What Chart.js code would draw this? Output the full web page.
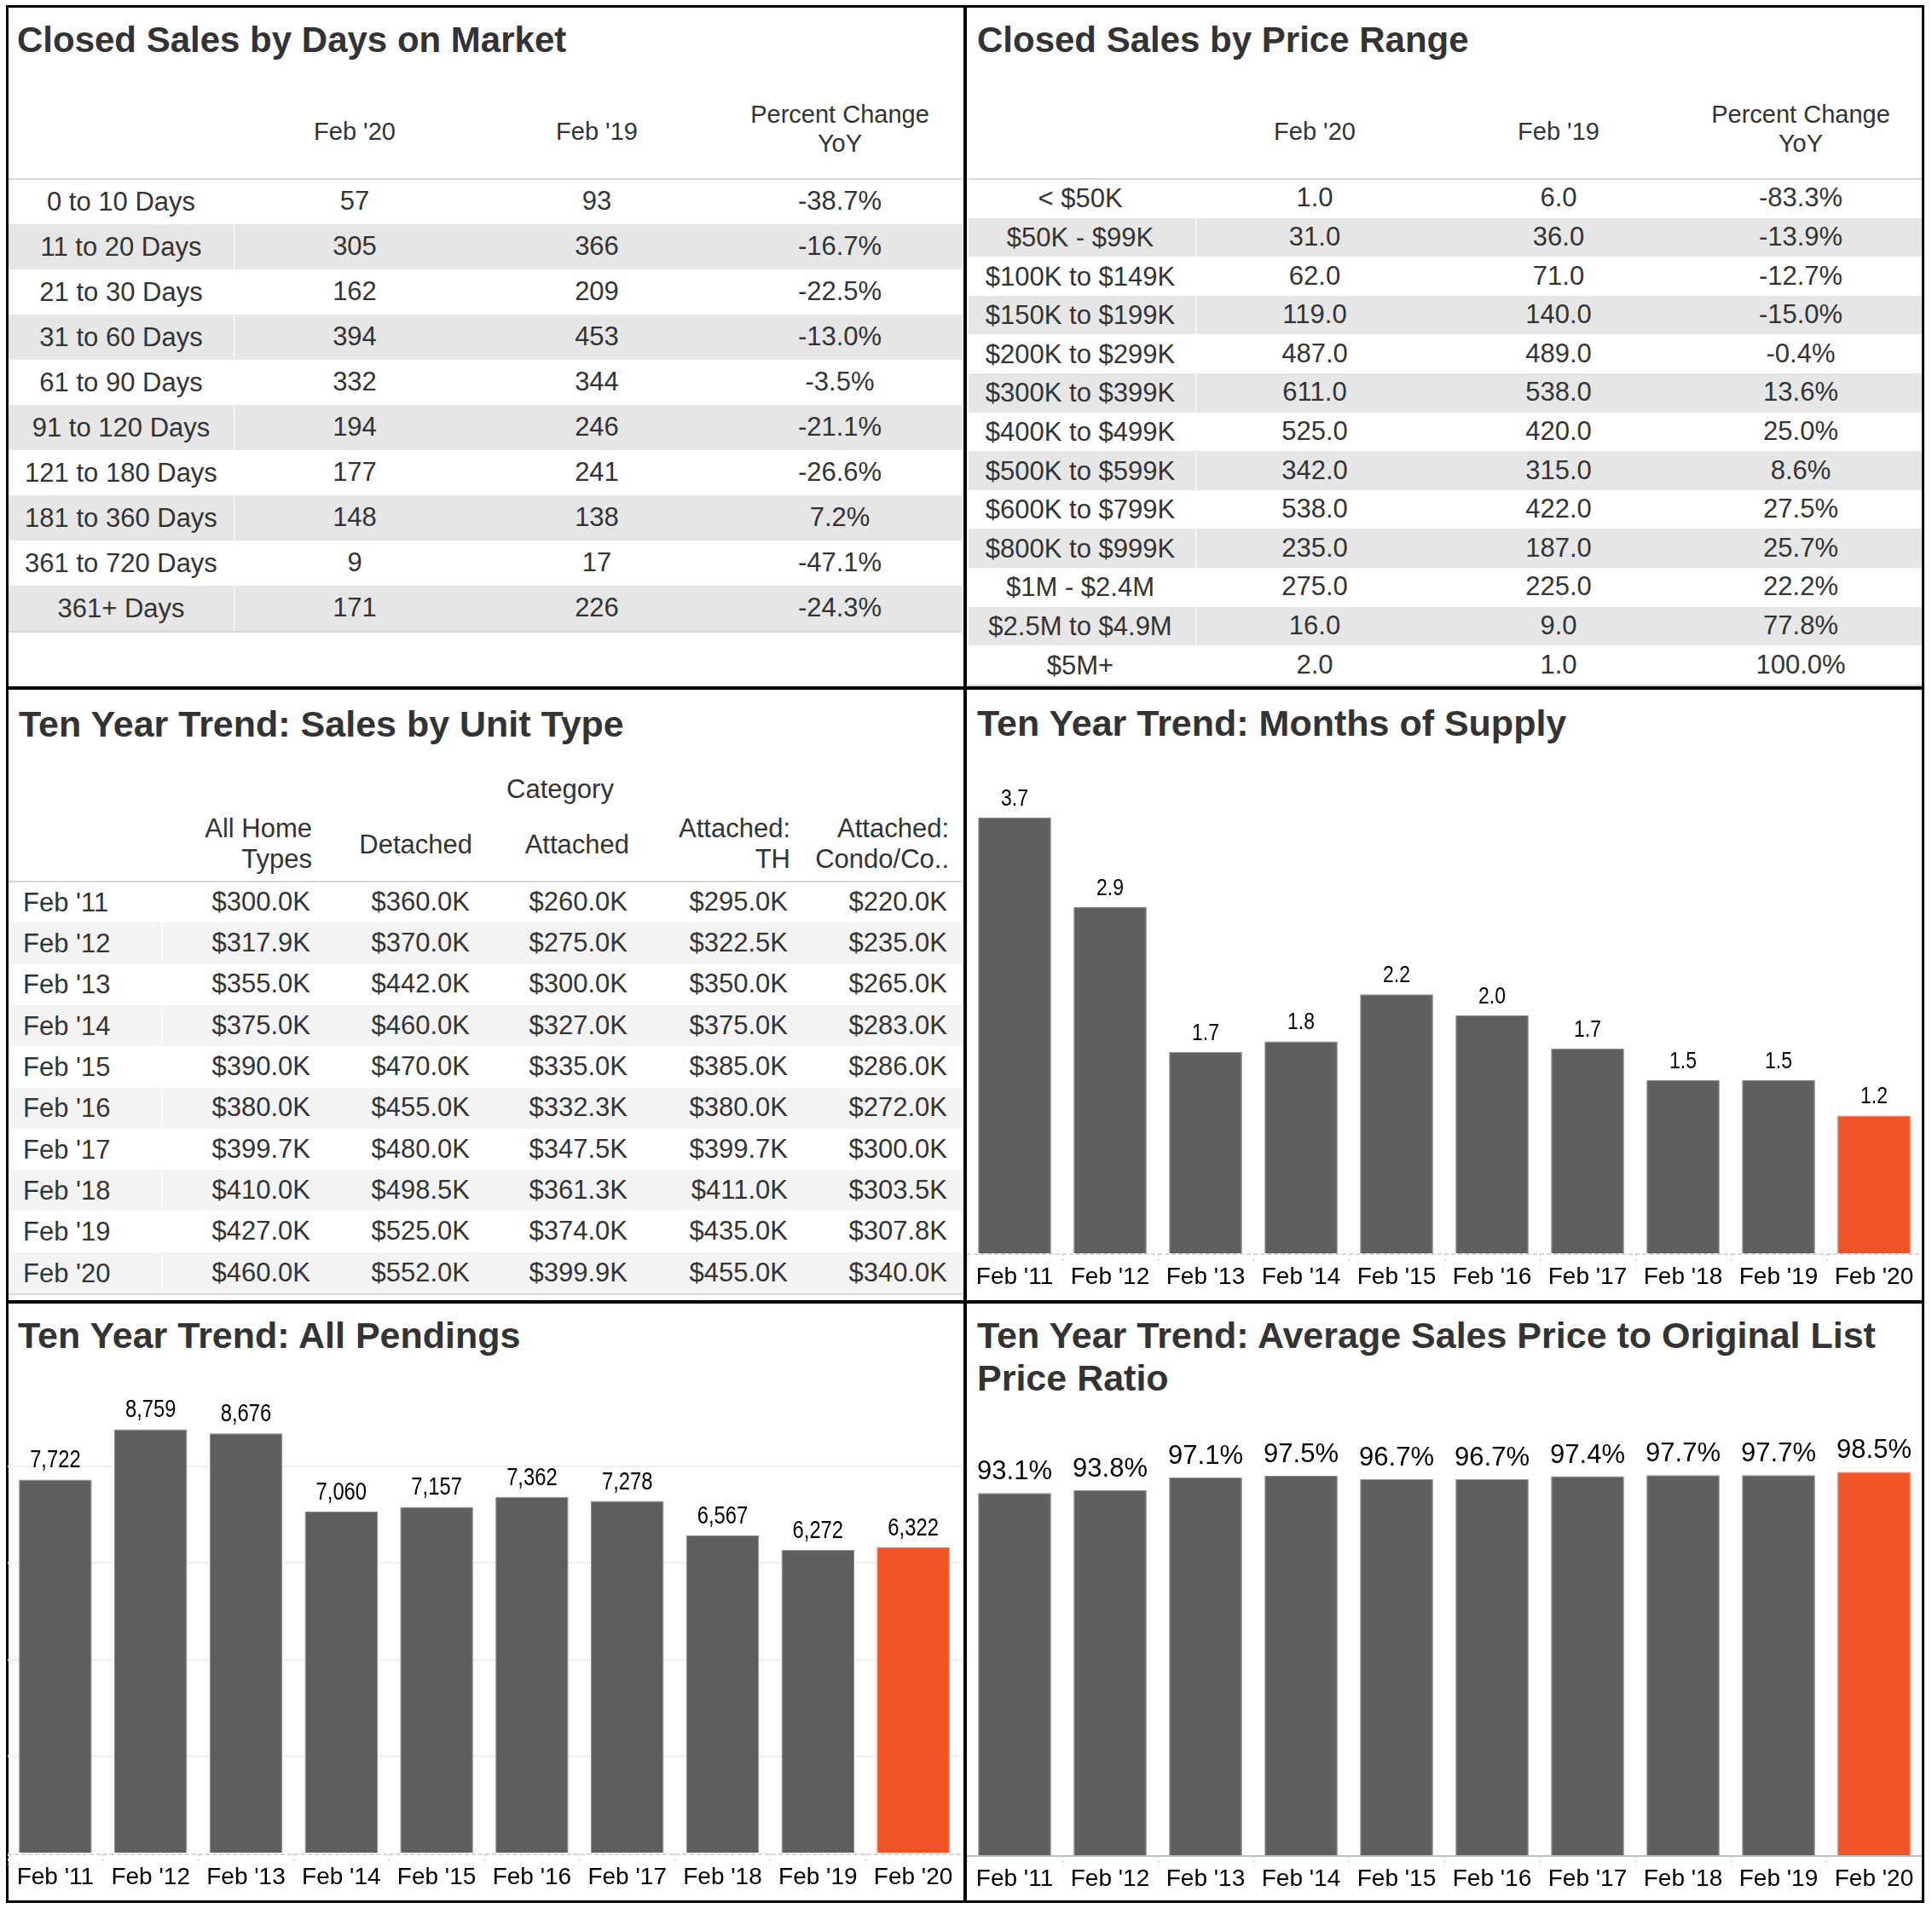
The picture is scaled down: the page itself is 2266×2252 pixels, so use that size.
<!DOCTYPE html>
<html><head><meta charset="utf-8">
<script src="https://cdn.jsdelivr.net/npm/chart.js@4.4.1/dist/chart.umd.min.js"></script>
<style>
html,body{margin:0;padding:0;background:#fff;}
body{width:2266px;height:2252px;position:relative;overflow:hidden;font-family:"Liberation Sans",Arial,Helvetica,sans-serif;}
.t{position:absolute;white-space:nowrap;color:#333;}
.r{position:absolute;}
canvas{position:absolute;}
</style></head><body>
<script>
// ---------------- DATA ----------------
const domLabels = ['0 to 10 Days','11 to 20 Days','21 to 30 Days','31 to 60 Days','61 to 90 Days','91 to 120 Days','121 to 180 Days','181 to 360 Days','361 to 720 Days','361+ Days'];
const domFeb20 = [57,305,162,394,332,194,177,148,9,171];
const domFeb19 = [93,366,209,453,344,246,241,138,17,226];
const domPct = [-38.7,-16.7,-22.5,-13.0,-3.5,-21.1,-26.6,7.2,-47.1,-24.3];

const priceLabels = ['< $50K','$50K - $99K','$100K to $149K','$150K to $199K','$200K to $299K','$300K to $399K','$400K to $499K','$500K to $599K','$600K to $799K','$800K to $999K','$1M - $2.4M','$2.5M to $4.9M','$5M+'];
const priceFeb20 = [1,31,62,119,487,611,525,342,538,235,275,16,2];
const priceFeb19 = [6,36,71,140,489,538,420,315,422,187,225,9,1];
const pricePct = [-83.3,-13.9,-12.7,-15.0,-0.4,13.6,25.0,8.6,27.5,25.7,22.2,77.8,100.0];

const years = ["Feb '11","Feb '12","Feb '13","Feb '14","Feb '15","Feb '16","Feb '17","Feb '18","Feb '19","Feb '20"];
const unitHeaders = [['All Home','Types'],['Detached'],['Attached'],['Attached:','TH'],['Attached:','Condo/Co..']];
const allHome = [300.0,317.9,355.0,375.0,390.0,380.0,399.7,410.0,427.0,460.0];
const detached = [360.0,370.0,442.0,460.0,470.0,455.0,480.0,498.5,525.0,552.0];
const attached = [260.0,275.0,300.0,327.0,335.0,332.3,347.5,361.3,374.0,399.9];
const attachedTH = [295.0,322.5,350.0,375.0,385.0,380.0,399.7,411.0,435.0,455.0];
const attachedCondo = [220.0,235.0,265.0,283.0,286.0,272.0,300.0,303.5,307.8,340.0];

const monthsSupply = [3.70,2.94,1.71,1.80,2.20,2.02,1.74,1.47,1.47,1.17];
const pendings = [7722,8759,8676,7060,7157,7362,7278,6567,6272,6322];
const spOlpRatio = [93.1,93.8,97.1,97.5,96.7,96.7,97.4,97.7,97.7,98.5];

// ---------------- HELPERS ----------------
const FONT = '"Liberation Sans", Arial, Helvetica, sans-serif';
const GRAY = '#5f5f5f', ORANGE = '#f05426';

function txt(s, x, base, size, opt) {
  opt = opt || {};
  const d = document.createElement('div');
  d.className = 't';
  d.textContent = s;
  const lh = size * 1.2;
  d.style.fontSize = size + 'px';
  d.style.lineHeight = lh + 'px';
  d.style.top = (base - (lh - 1.117 * size) / 2 - 0.905 * size) + 'px';
  const align = opt.align || 'left';
  if (align === 'left') d.style.left = x + 'px';
  else if (align === 'center') { d.style.left = (x - 600) + 'px'; d.style.width = '1200px'; d.style.textAlign = 'center'; }
  else { d.style.left = (x - 1200) + 'px'; d.style.width = '1200px'; d.style.textAlign = 'right'; }
  if (opt.weight) d.style.fontWeight = opt.weight;
  if (opt.color) d.style.color = opt.color;
  document.body.appendChild(d);
}
function rect(x, y, w, h, color) {
  const d = document.createElement('div');
  d.className = 'r';
  d.style.left = x + 'px'; d.style.top = y + 'px';
  d.style.width = w + 'px'; d.style.height = h + 'px';
  d.style.background = color;
  document.body.appendChild(d);
}
const fmtPct = v => v.toFixed(1) + '%';
const fmtK = v => '$' + v.toFixed(1) + 'K';

// ---------------- FRAME ----------------
(function(){
  const f = document.createElement('div');
  f.className = 'r';
  f.style.left = '7px'; f.style.top = '6px'; f.style.width = '2250px'; f.style.height = '2226px';
  f.style.border = '3px solid #000'; f.style.boxSizing = 'border-box';
  document.body.appendChild(f);
})();

// ---------------- TITLES ----------------
const T = {weight: 'bold', color: '#333'};
txt('Closed Sales by Days on Market', 20, 62, 42, T);
txt('Closed Sales by Price Range', 1146, 62, 42, T);
txt('Ten Year Trend: Sales by Unit Type', 22, 865, 43, T);
txt('Ten Year Trend: Months of Supply', 1146, 864, 43, T);
txt('Ten Year Trend: All Pendings', 21, 1582, 43, T);
txt('Ten Year Trend: Average Sales Price to Original List', 1146, 1582, 43, T);
txt('Price Ratio', 1146, 1632, 43, T);

// ---------------- TABLE: Days on Market ----------------
(function(){
  const cols = [416, 700, 985], labelX = 142, top0 = 210, rh = 53;
  txt("Feb '20", cols[0], 164, 29, {align:'center'});
  txt("Feb '19", cols[1], 164, 29, {align:'center'});
  txt('Percent Change', cols[2], 144, 29, {align:'center'});
  txt('YoY', cols[2], 178, 29, {align:'center'});
  domLabels.forEach((lab, i) => {
    const top = top0 + rh * i;
    if (i % 2 === 1) { rect(10, top, 264, rh, '#e6e6e6'); rect(275, top, 853, rh, '#e6e6e6'); }
    const b = top + rh / 2 + 11;
    txt(lab, labelX, b, 31, {align:'center'});
    txt(String(domFeb20[i]), cols[0], b - 1, 31, {align:'center'});
    txt(String(domFeb19[i]), cols[1], b - 1, 31, {align:'center'});
    txt(fmtPct(domPct[i]), cols[2], b - 1, 31, {align:'center'});
  });
  rect(10, top0 - 1, 1118, 2, '#d4d4d4');
  rect(10, top0 + rh * domLabels.length, 1118, 2, '#d9d9d9');
})();

// ---------------- TABLE: Price Range ----------------
(function(){
  const cols = [1542, 1828, 2112], labelX = 1267, top0 = 210, rh = 45.6;
  txt("Feb '20", cols[0], 164, 29, {align:'center'});
  txt("Feb '19", cols[1], 164, 29, {align:'center'});
  txt('Percent Change', cols[2], 144, 29, {align:'center'});
  txt('YoY', cols[2], 178, 29, {align:'center'});
  priceLabels.forEach((lab, i) => {
    const top = top0 + rh * i;
    if (i % 2 === 1) { rect(1136, top, 266, rh, '#e6e6e6'); rect(1403, top, 851, rh, '#e6e6e6'); }
    const b = top + rh / 2 + 11;
    txt(lab, labelX, b, 31, {align:'center'});
    txt(priceFeb20[i].toFixed(1), cols[0], b - 1, 31, {align:'center'});
    txt(priceFeb19[i].toFixed(1), cols[1], b - 1, 31, {align:'center'});
    txt(fmtPct(pricePct[i]), cols[2], b - 1, 31, {align:'center'});
  });
  rect(1136, top0 - 1, 1118, 2, '#d4d4d4');
  rect(1136, top0 + rh * priceLabels.length, 1118, 2, '#d9d9d9');
})();

// ---------------- TABLE: Unit Type ----------------
(function(){
  const hdrRight = [366, 554, 738, 927, 1113];
  const valRight = [364, 551, 736, 924, 1111];
  const series = [allHome, detached, attached, attachedTH, attachedCondo];
  const top0 = 1034, rh = 48.3;
  txt('Category', 657, 936, 31, {align:'center'});
  unitHeaders.forEach((h, j) => {
    if (h.length === 2) {
      txt(h[0], hdrRight[j], 982, 31, {align:'right'});
      txt(h[1], hdrRight[j], 1018, 31, {align:'right'});
    } else {
      txt(h[0], hdrRight[j], 1001, 31, {align:'right'});
    }
  });
  years.forEach((y, i) => {
    const top = top0 + rh * i;
    if (i % 2 === 1) { rect(10, top, 179, rh, '#f3f3f3'); rect(190, top, 938, rh, '#f3f3f3'); }
    const b = top + rh / 2 + 11;
    txt(y, 27, b, 31);
    series.forEach((s, j) => txt(fmtK(s[i]), valRight[j], b - 1, 31, {align:'right'}));
  });
  rect(10, top0 - 1, 1118, 2, '#d4d4d4');
  rect(10, top0 + rh * years.length, 1118, 2, '#d9d9d9');
})();

// ---------------- DIVIDERS ----------------
rect(1130, 6, 4, 2226, '#000');
rect(7, 805, 2250, 4, '#000');
rect(7, 1525, 2250, 4, '#000');

// ---------------- BAR CHARTS ----------------
function barChart(cfg) {
  const c = document.createElement('canvas');
  c.width = cfg.w; c.height = cfg.h;
  c.style.left = cfg.left + 'px'; c.style.top = cfg.top + 'px';
  c.style.width = cfg.w + 'px'; c.style.height = cfg.h + 'px';
  document.body.appendChild(c);
  const n = cfg.data.length;
  const fill = cfg.data.map((v, i) => i === n - 1 ? ORANGE : GRAY);
  const edge = cfg.data.map((v, i) => i === n - 1 ? '#f26a3e' : '#8a8a8a');
  const labelPlugin = {
    id: 'valueLabels',
    afterDatasetsDraw(chart) {
      const ctx = chart.ctx;
      const meta = chart.getDatasetMeta(0);
      ctx.save();
      ctx.fillStyle = '#000';
      ctx.font = cfg.labelSize + 'px ' + FONT;
      ctx.textAlign = 'center';
      ctx.textBaseline = 'alphabetic';
      meta.data.forEach((bar, i) => {
        ctx.save();
        ctx.translate(bar.x, bar.y - cfg.labelGap);
        ctx.scale(cfg.labelScale, 1);
        ctx.fillText(cfg.fmt(chart.data.datasets[0].data[i]), 0, 0);
        ctx.restore();
      });
      ctx.restore();
    }
  };
  const basePlugin = {
    id: 'baseLine',
    beforeDatasetsDraw(chart) {
      const ctx = chart.ctx, a = chart.chartArea;
      ctx.save();
      ctx.strokeStyle = cfg.baseColor;
      ctx.lineWidth = 2;
      ctx.setLineDash(cfg.baseDash || []);
      ctx.beginPath();
      ctx.moveTo(a.left, a.bottom + 1);
      ctx.lineTo(a.right, a.bottom + 1);
      ctx.stroke();
      ctx.restore();
    }
  };
  const yScale = cfg.grid ? {
    min: 0, max: cfg.max, display: true,
    ticks: {display: false, stepSize: cfg.grid},
    border: {display: false},
    grid: {drawTicks: false, lineWidth: 2,
      color: (ctx) => (ctx.tick && ctx.tick.value > 0 && ctx.tick.value < cfg.max) ? '#efefef' : 'rgba(0,0,0,0)'},
    afterFit(s) { s.width = 0; }
  } : {min: 0, max: cfg.max, display: false};
  new Chart(c, {
    type: 'bar',
    data: {labels: years, datasets: [{data: cfg.data, backgroundColor: fill, borderColor: edge, borderWidth: 1,
      barPercentage: 0.765, categoryPercentage: 1}]},
    options: {
      responsive: false, animation: false, devicePixelRatio: 1,
      layout: {padding: 0},
      plugins: {legend: {display: false}, tooltip: {enabled: false}},
      scales: {
        x: {
          offset: true,
          grid: {display: true, drawOnChartArea: false, drawTicks: true, tickLength: 13,
            tickColor: '#dcdcdc', tickWidth: 2, tickBorderDash: [3, 3]},
          border: {display: false},
          ticks: {color: '#000', font: {family: FONT, size: 28}, padding: -2, autoSkip: false, maxRotation: 0, minRotation: 0},
          afterFit(s) { s.height = 56; }
        },
        y: yScale
      }
    },
    plugins: [basePlugin, labelPlugin]
  });
}

barChart({left: 1134, top: 890, w: 1120, h: 580 + 56, data: monthsSupply, max: 4.2,
  fmt: v => v.toFixed(1), labelSize: 28, labelScale: 0.82, labelGap: 14,
  baseColor: '#d4d4d4', baseDash: [5, 3]});

barChart({left: 9, top: 1606, w: 1118, h: 568 + 56, data: pendings, max: 10000, grid: 2000,
  fmt: v => v.toLocaleString('en-US'), labelSize: 29, labelScale: 0.82, labelGap: 14,
  baseColor: '#d4d4d4', baseDash: [5, 3]});

barChart({left: 1134, top: 1674, w: 1120, h: 502 + 56, data: spOlpRatio, max: 110,
  fmt: v => v.toFixed(1) + '%', labelSize: 31, labelScale: 1, labelGap: 16,
  baseColor: '#b9c0c8', baseDash: []});
</script>
</body></html>
